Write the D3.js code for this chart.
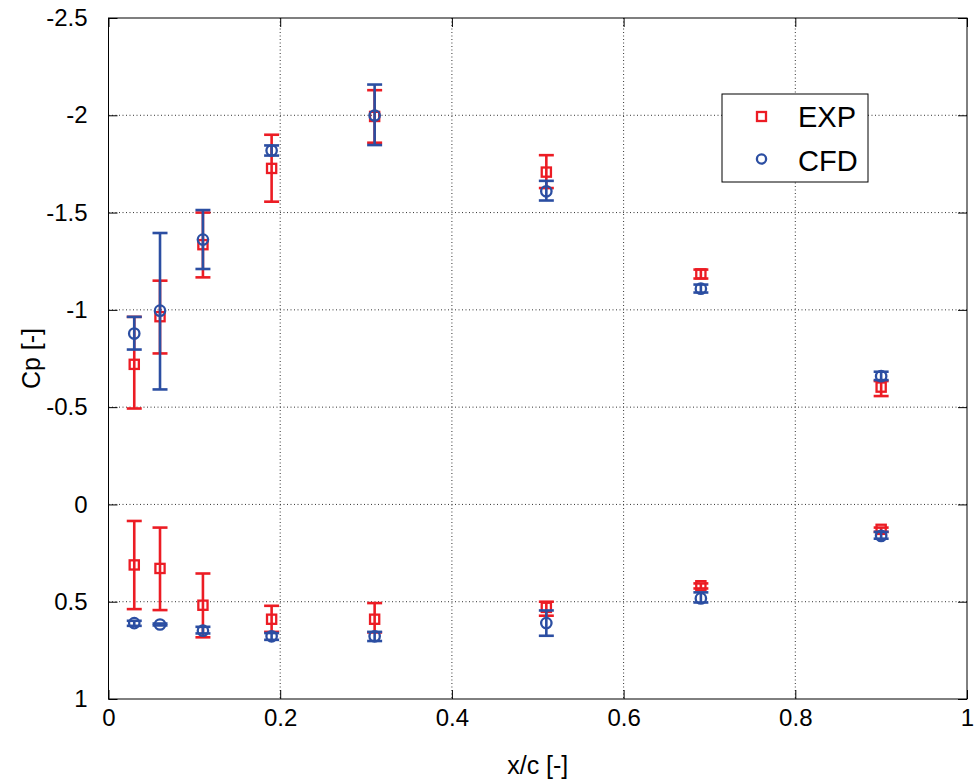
<!DOCTYPE html>
<html>
<head>
<meta charset="utf-8">
<script src="https://cdn.jsdelivr.net/npm/d3@7"></script>
<style>
  body { margin: 0; background: #fff; }
  text { font-family: "Liberation Sans", Arial, sans-serif; fill: #000; }
</style>
</head>
<body>
<div id="chart"></div>
<script>
// x/c positions of the pressure taps
var xPos = [0.03, 0.06, 0.11, 0.19, 0.31, 0.51, 0.69, 0.90];

// suction side
var expUpper   = [-0.72, -0.965, -1.335, -1.727, -1.994, -1.708, -1.185, -0.603];
var expUpperLo = [-0.964, -1.150, -1.50, -1.900, -2.129, -1.795, -1.207, -0.634];
var expUpperHi = [-0.493, -0.776, -1.167, -1.556, -1.859, -1.626, -1.161, -0.557];
var cfdUpper   = [-0.878, -0.996, -1.361, -1.819, -1.999, -1.609, -1.109, -0.659];
var cfdUpperLo = [-0.964, -1.395, -1.513, -1.845, -2.158, -1.663, -1.130, -0.682];
var cfdUpperHi = [-0.796, -0.591, -1.210, -1.793, -1.847, -1.562, -1.089, -0.639];

// pressure side
var expLower   = [0.311, 0.329, 0.518, 0.590, 0.590, 0.529, 0.418, 0.128];
var expLowerLo = [0.085, 0.119, 0.355, 0.521, 0.507, 0.500, 0.406, 0.119];
var expLowerHi = [0.538, 0.543, 0.683, 0.655, 0.658, 0.572, 0.432, 0.141];
var cfdLower   = [0.610, 0.617, 0.649, 0.678, 0.678, 0.610, 0.483, 0.162];
var cfdLowerLo = [0.598, 0.612, 0.629, 0.661, 0.655, 0.545, 0.452, 0.141];
var cfdLowerHi = [0.624, 0.622, 0.663, 0.696, 0.702, 0.675, 0.504, 0.176];

var xTicks = [0, 0.2, 0.4, 0.6, 0.8, 1];
var yTicks = [-2.5, -2, -1.5, -1, -0.5, 0, 0.5, 1];
var legendNames = ["EXP", "CFD"];

var red = "#ec1c24", blue = "#2b4ea2";

function init(){
    var w = 975, h = 782;
    var m = {left: 108.5, right: 8, top: 18, bottom: 83};

    var svg = d3.select("#chart").append("svg")
                .attr("width", w)
                .attr("height", h);

    var x = d3.scaleLinear().domain([0, 1]).range([m.left, w - m.right]);
    var y = d3.scaleLinear().domain([-2.5, 1]).range([m.top, h - m.bottom]);

    // dotted grid
    var grid = svg.append("g")
                .attr("stroke", "#333")
                .attr("stroke-width", 1)
                .attr("stroke-dasharray", "1,2.5");
    grid.selectAll(".gx").data(xTicks.slice(1, -1)).enter().append("line")
        .attr("x1", function(d){ return x(d); }).attr("x2", function(d){ return x(d); })
        .attr("y1", y(-2.5)).attr("y2", y(1));
    grid.selectAll(".gy").data(yTicks.slice(1, -1)).enter().append("line")
        .attr("y1", function(d){ return y(d); }).attr("y2", function(d){ return y(d); })
        .attr("x1", x(0)).attr("x2", x(1));

    // axes with inward ticks, box on
    var tl = 9;
    var fmt = function(d){ return String(d); };
    var ax = svg.append("g");
    ax.append("g").attr("transform", "translate(0," + y(1) + ")")
        .call(d3.axisBottom(x).tickValues(xTicks).tickSize(-tl).tickPadding(10).tickFormat(fmt))
        .call(function(g){ g.select(".domain").remove(); });
    ax.append("g").attr("transform", "translate(0," + y(-2.5) + ")")
        .call(d3.axisTop(x).tickValues(xTicks).tickSize(-tl).tickFormat(""))
        .call(function(g){ g.select(".domain").remove(); });
    ax.append("g").attr("transform", "translate(" + x(0) + ",0)")
        .call(d3.axisLeft(y).tickValues(yTicks).tickSize(-tl).tickPadding(21).tickFormat(fmt))
        .call(function(g){ g.select(".domain").remove(); });
    ax.append("g").attr("transform", "translate(" + x(1) + ",0)")
        .call(d3.axisRight(y).tickValues(yTicks).tickSize(-tl).tickFormat(""))
        .call(function(g){ g.select(".domain").remove(); });
    ax.selectAll("g").attr("font-size", 24).attr("font-family", "Liberation Sans, Arial, sans-serif");
    ax.selectAll("text").attr("fill", "#000");
    ax.selectAll("line").attr("stroke", "#000");

    svg.append("rect")
        .attr("x", x(0)).attr("y", y(-2.5))
        .attr("width", x(1) - x(0)).attr("height", y(1) - y(-2.5))
        .attr("fill", "none").attr("stroke", "#000").attr("stroke-width", 1);

    // axis titles
    svg.append("text")
        .attr("x", (x(0) + x(1)) / 2).attr("y", 774)
        .attr("text-anchor", "middle").attr("font-size", 25)
        .text("x/c [-]");
    svg.append("text")
        .attr("transform", "translate(40," + y(-0.75) + ") rotate(-90)")
        .attr("text-anchor", "middle").attr("font-size", 25)
        .text("Cp [-]");

    function series(vals, lo, hi, color, shape){
        var g = svg.append("g").attr("stroke", color).attr("fill", "none");
        var rows = xPos.map(function(d, i){ return {x: d, v: vals[i], lo: lo[i], hi: hi[i]}; });
        var cap = 7.5;
        var bars = g.selectAll(".bar").data(rows).enter().append("g").attr("stroke-width", 2.6);
        bars.append("line")
            .attr("x1", function(d){ return x(d.x); }).attr("x2", function(d){ return x(d.x); })
            .attr("y1", function(d){ return y(d.lo); }).attr("y2", function(d){ return y(d.hi); });
        bars.append("line")
            .attr("x1", function(d){ return x(d.x) - cap; }).attr("x2", function(d){ return x(d.x) + cap; })
            .attr("y1", function(d){ return y(d.lo); }).attr("y2", function(d){ return y(d.lo); });
        bars.append("line")
            .attr("x1", function(d){ return x(d.x) - cap; }).attr("x2", function(d){ return x(d.x) + cap; })
            .attr("y1", function(d){ return y(d.hi); }).attr("y2", function(d){ return y(d.hi); });
        if (shape == "square") {
            g.selectAll(".mk").data(rows).enter().append("rect")
                .attr("x", function(d){ return x(d.x) - 4.6; })
                .attr("y", function(d){ return y(d.v) - 4.6; })
                .attr("width", 9.2).attr("height", 9.2)
                .attr("stroke-width", 2.3);
        } else {
            g.selectAll(".mk").data(rows).enter().append("circle")
                .attr("cx", function(d){ return x(d.x); })
                .attr("cy", function(d){ return y(d.v); })
                .attr("r", 5.2)
                .attr("stroke-width", 2.3);
        }
    }

    series(expUpper, expUpperLo, expUpperHi, red, "square");
    series(expLower, expLowerLo, expLowerHi, red, "square");
    series(cfdUpper, cfdUpperLo, cfdUpperHi, blue, "circle");
    series(cfdLower, cfdLowerLo, cfdLowerHi, blue, "circle");

    // legend
    var lg = svg.append("g").attr("transform", "translate(722,94)");
    lg.append("rect").attr("width", 146).attr("height", 88)
        .attr("fill", "#fff").attr("stroke", "#000").attr("stroke-width", 1);
    lg.append("rect").attr("x", 35).attr("y", 18).attr("width", 9).attr("height", 9)
        .attr("fill", "none").attr("stroke", red).attr("stroke-width", 2.3);
    lg.append("circle").attr("cx", 39.5).attr("cy", 65).attr("r", 4.6)
        .attr("fill", "none").attr("stroke", blue).attr("stroke-width", 2.3);
    lg.selectAll(".lt").data(legendNames).enter().append("text")
        .attr("x", 76).attr("y", function(d, i){ return 33 + i * 44; })
        .attr("font-size", 29)
        .text(function(d){ return d; });
}
window.onload = init;
</script>
</body>
</html>
